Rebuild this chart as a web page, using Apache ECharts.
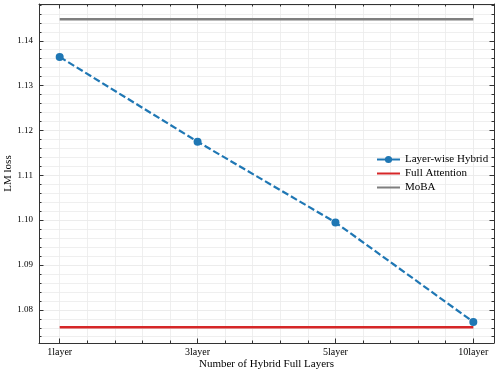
<!DOCTYPE html>
<html><head><meta charset="utf-8">
<script src="https://cdn.jsdelivr.net/npm/echarts@6/dist/echarts.min.js"></script>
<style>html,body{margin:0;padding:0;background:#fff}#c{width:498px;height:373px}</style>
</head><body><div id="c"></div>
<script>
// ---- data ----
const categories = ['1layer', '3layer', '5layer', '10layer'];
const hybrid = [1.1364, 1.1175, 1.0995, 1.0773];
const fullAttention = [1.0761, 1.0761, 1.0761, 1.0761];
const moba = [1.1448, 1.1448, 1.1448, 1.1448];
const yMajorTicks = [1.08, 1.09, 1.10, 1.11, 1.12, 1.13, 1.14];
const xMajorTicks = [0, 1, 2, 3];
const xRange = [-0.15, 3.15];
const yRange = [1.0726, 1.1482];

// minor tick positions (axis decoration)
const xMinorTicks = [];
for (let i = 1; i <= 15; i++) { const v = +(i * 0.2).toFixed(2); if (v < xRange[1]) xMinorTicks.push(v); }
const yMinorTicks = [];
for (let i = 537; i <= 574; i++) { const v = +(i * 0.002).toFixed(3); if (v > yRange[0] && v < yRange[1]) yMinorTicks.push(v); }

const FONT = 'Liberation Serif';
const AX = '#333';
const GRID = '#ebebeb';

function xAxisDef(pos, ticks, len, showLabel, showLine, showSplit) {
  return {
    type: 'value', position: pos, min: xRange[0], max: xRange[1],
    axisLine: { show: showLine, onZero: false, lineStyle: { color: AX, width: 1 } },
    axisTick: { show: true, inside: true, length: len, customValues: ticks, lineStyle: { color: AX, width: 1 } },
    axisLabel: showLabel ? {
      show: true, customValues: xMajorTicks, margin: 4, color: '#000',
      fontFamily: FONT, fontSize: 10,
      formatter: v => categories[Math.round(v)]
    } : { show: false },
    splitLine: { show: showSplit, lineStyle: { color: GRID, width: 0.8 } }
  };
}
function yAxisDef(pos, ticks, len, showLabel, showLine, showSplit) {
  return {
    type: 'value', position: pos, min: yRange[0], max: yRange[1],
    axisLine: { show: showLine, onZero: false, lineStyle: { color: AX, width: 1 } },
    axisTick: { show: true, inside: true, length: len, customValues: ticks, lineStyle: { color: AX, width: 1 } },
    axisLabel: showLabel ? {
      show: true, customValues: yMajorTicks, margin: 6, color: '#000',
      fontFamily: FONT, fontSize: 9,
      formatter: v => (+v).toFixed(2)
    } : { show: false },
    splitLine: { show: showSplit, lineStyle: { color: GRID, width: 0.8 } }
  };
}

const xa0 = xAxisDef('bottom', xMajorTicks, 4.5, true, true, true);
xa0.name = 'Number of Hybrid Full Layers';
xa0.nameLocation = 'middle';
xa0.nameGap = 16;
xa0.nameMoveOverlap = false;
xa0.nameTextStyle = { fontFamily: FONT, fontSize: 11, color: '#000' };
const ya0 = yAxisDef('left', yMajorTicks, 4.5, true, true, true);
ya0.name = 'LM loss';
ya0.nameLocation = 'middle';
ya0.nameGap = 25;
ya0.nameMoveOverlap = false;
ya0.nameTextStyle = { fontFamily: FONT, fontSize: 11, color: '#000' };

const toPts = arr => arr.map((v, i) => [i, v]);

const option = {
  animation: false,
  backgroundColor: '#fff',
  grid: { left: 39, right: 4, top: 4, bottom: 30, containLabel: false, outerBoundsMode: 'none' },
  xAxis: [
    xa0,
    xAxisDef('bottom', xMinorTicks, 2.5, false, false, true),
    xAxisDef('top', xMajorTicks, 4.5, false, true, false),
    xAxisDef('top', xMinorTicks, 2.5, false, false, false)
  ],
  yAxis: [
    ya0,
    yAxisDef('left', yMinorTicks, 2.5, false, false, true),
    yAxisDef('right', yMajorTicks, 4.5, false, true, false),
    yAxisDef('right', yMinorTicks, 2.5, false, false, false)
  ],
  legend: {
    orient: 'vertical', left: 371, top: 149,
    itemWidth: 23, itemHeight: 9, itemGap: 3,
    textStyle: { fontFamily: FONT, fontSize: 11, color: '#000' },
    data: [
      { name: 'Layer-wise Hybrid', lineStyle: { type: 'solid' } },
      { name: 'Full Attention', itemStyle: { opacity: 0 } },
      { name: 'MoBA', itemStyle: { opacity: 0 } }
    ]
  },
  series: [
    {
      name: 'Full Attention', type: 'line', xAxisIndex: 0, yAxisIndex: 0,
      data: toPts(fullAttention), showSymbol: false, symbol: 'none',
      lineStyle: { color: '#d62728', width: 2.5 }, itemStyle: { color: '#d62728' }, z: 3
    },
    {
      name: 'MoBA', type: 'line', xAxisIndex: 0, yAxisIndex: 0,
      data: toPts(moba), showSymbol: false, symbol: 'none',
      lineStyle: { color: '#7f7f7f', width: 2.5 }, itemStyle: { color: '#7f7f7f' }, z: 3
    },
    {
      name: 'Layer-wise Hybrid', type: 'line', xAxisIndex: 0, yAxisIndex: 0,
      data: toPts(hybrid), symbol: 'circle', symbolSize: 8,
      lineStyle: { color: '#1f77b4', width: 2.2, type: [7, 3] },
      itemStyle: { color: '#1f77b4' }, z: 4
    }
  ]
};
echarts.init(document.getElementById('c'), null, { renderer: 'canvas' }).setOption(option);
</script></body></html>
